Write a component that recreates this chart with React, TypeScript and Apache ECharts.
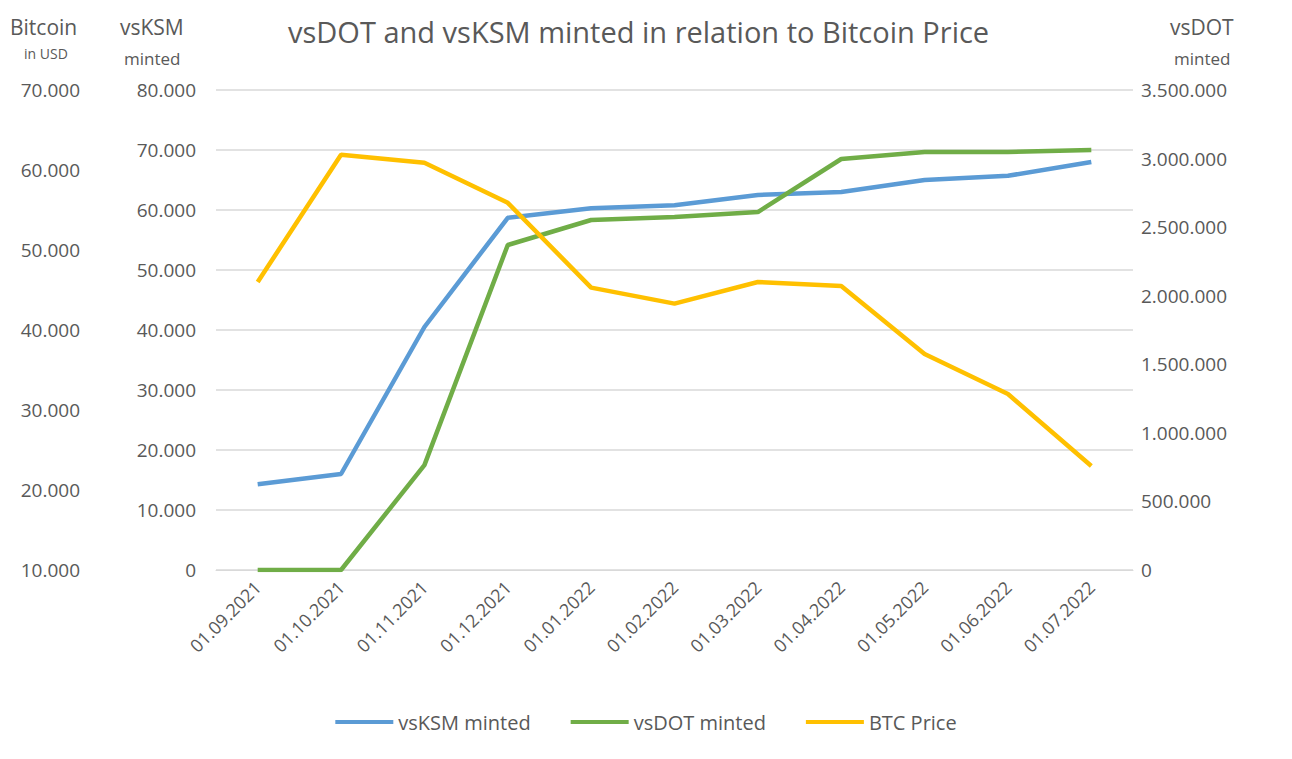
import React, { useRef, useEffect } from 'react'
import * as echarts from 'echarts'

const months = [
  '01.09.2021', '01.10.2021', '01.11.2021', '01.12.2021', '01.01.2022', '01.02.2022',
  '01.03.2022', '01.04.2022', '01.05.2022', '01.06.2022', '01.07.2022'
]
const vsKsmMinted = [14300, 16000, 40500, 58700, 60300, 60800, 62500, 63000, 65000, 65700, 68000]
const vsDotMinted = [0, 0, 765000, 2370000, 2552000, 2574000, 2610000, 2997000, 3048000, 3048000, 3062000]
const btcPrice = [46000, 61900, 60900, 55900, 45300, 43300, 46000, 45500, 37000, 32000, 23000]

const fmt = (v: number) => (v === 0 ? '0' : v.toString().replace(/\B(?=(\d{3})+(?!\d))/g, '.'))
const font = '"Open Sans", "Liberation Sans", sans-serif'
const grey = '#595959'

const App: React.FC = () => {
  const chartRef = useRef<HTMLDivElement>(null)

  useEffect(() => {
    if (!chartRef.current) return
    const chart = echarts.init(chartRef.current, undefined, { renderer: 'svg' })

    const axisBase = {
      type: 'value',
      axisLine: { show: false },
      axisTick: { show: false },
      axisLabel: { color: grey, fontSize: 19, fontFamily: font, formatter: fmt },
      splitLine: { show: false }
    }

    chart.setOption({
      animation: false,
      textStyle: { fontFamily: font },
      title: {
        text: 'vsDOT and vsKSM minted in relation to Bitcoin Price',
        left: 275,
        top: 4,
        textStyle: { color: grey, fontSize: 29, fontWeight: 'normal', fontFamily: font }
      },
      grid: { left: 208, right: 151, top: 82, bottom: 181 },
      legend: {
        bottom: 14,
        left: 'center',
        itemWidth: 58,
        itemHeight: 4,
        itemGap: 40,
        icon: 'rect',
        textStyle: { color: grey, fontSize: 20, fontFamily: font },
        data: ['vsKSM minted', 'vsDOT minted', 'BTC Price']
      },
      xAxis: {
        type: 'category',
        data: months,
        boundaryGap: true,
        axisLine: { lineStyle: { color: '#d9d9d9' } },
        axisTick: { show: false },
        axisLabel: { color: grey, fontSize: 18, fontFamily: font, rotate: 45, margin: 14 }
      },
      yAxis: [
        {
          ...axisBase,
          min: 0, max: 80000, interval: 10000,
          axisLabel: { ...axisBase.axisLabel, margin: 20 },
          splitLine: { show: true, lineStyle: { color: '#d9d9d9', width: 1.5 } }
        },
        {
          ...axisBase,
          position: 'left',
          offset: 128,
          min: 10000, max: 70000, interval: 10000
        },
        {
          ...axisBase,
          position: 'right',
          min: 0, max: 3500000, interval: 500000,
          axisLabel: { ...axisBase.axisLabel, margin: 8 }
        }
      ],
      series: [
        {
          name: 'vsKSM minted', type: 'line', yAxisIndex: 0, data: vsKsmMinted,
          symbol: 'none', lineStyle: { color: '#5b9bd5', width: 4.5 }, itemStyle: { color: '#5b9bd5' }
        },
        {
          name: 'vsDOT minted', type: 'line', yAxisIndex: 2, data: vsDotMinted,
          symbol: 'none', lineStyle: { color: '#70ad47', width: 4.5 }, itemStyle: { color: '#70ad47' }
        },
        {
          name: 'BTC Price', type: 'line', yAxisIndex: 1, data: btcPrice,
          symbol: 'none', lineStyle: { color: '#ffc000', width: 4.5 }, itemStyle: { color: '#ffc000' }
        }
      ],
      graphic: [
        { type: 'text', left: 2, top: 8, style: { text: 'Bitcoin', fill: grey, fontSize: 21, fontFamily: font } },
        { type: 'text', left: 16, top: 38, style: { text: 'in USD', fill: grey, fontSize: 14, fontFamily: font } },
        { type: 'text', left: 112, top: 8, style: { text: 'vsKSM', fill: grey, fontSize: 21, fontFamily: font } },
        { type: 'text', left: 116, top: 42, style: { text: 'minted', fill: grey, fontSize: 17, fontFamily: font } },
        { type: 'text', left: 1162, top: 8, style: { text: 'vsDOT', fill: grey, fontSize: 21, fontFamily: font } },
        { type: 'text', left: 1166, top: 42, style: { text: 'minted', fill: grey, fontSize: 17, fontFamily: font } }
      ]
    })

    return () => {
      chart.dispose()
    }
  }, [])

  return <div ref={chartRef} style={{ width: 1276, height: 743, background: '#fff' }} />
}

export default App
